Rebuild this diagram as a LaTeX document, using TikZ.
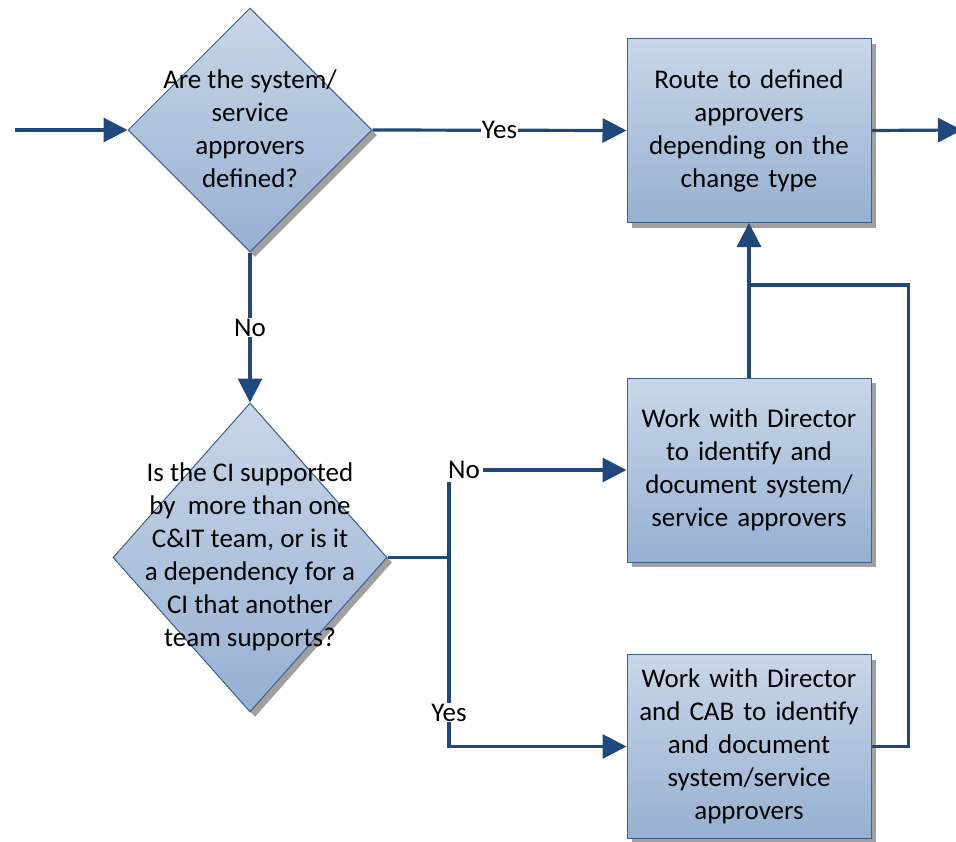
\documentclass[tikz,border=0pt]{standalone}
\usepackage{fontspec}
\setmainfont{Carlito}
\usetikzlibrary{shapes.geometric,arrows.meta,shadows}

\definecolor{flowblue}{RGB}{31,73,125}
\definecolor{edgeblue}{RGB}{62,96,140}
\definecolor{filltop}{RGB}{201,215,232}
\definecolor{fillbot}{RGB}{150,176,210}
\definecolor{shadowgray}{RGB}{160,160,160}
\newcommand\flowfont{\fontsize{27}{33}\selectfont}

\begin{document}
\begin{tikzpicture}[x=1pt,y=-1pt,
  flow/.style={draw=flowblue, line width=3.2pt},
  arr/.style={flow, -{Triangle[length=24pt,width=24pt]}},
  shapebase/.style={draw=edgeblue, line width=1pt, top color=filltop, bottom color=fillbot,
    drop shadow={shadow xshift=5pt, shadow yshift=-5pt, fill=shadowgray, opacity=1}},
  decision/.style={shapebase, diamond, inner sep=0pt},
  stepbox/.style={shapebase, rectangle, minimum width=244pt, minimum height=184pt,
    text width=226pt, align=center, font=\flowfont},
  qtext/.style={align=center, font=\flowfont, inner sep=0pt},
  lbl/.style={fill=white, inner sep=1pt, font=\flowfont}
]
\useasboundingbox (0,0) rectangle (956,841);

% decisions
\node[decision, minimum width=244pt, minimum height=244pt] (d1) at (250,130) {};
\node[qtext] (d1t) at ([yshift=1pt]d1.center) {Are the system/\\service\\approvers\\defined?};

\node[decision, minimum width=274pt, minimum height=309pt] (d2) at (250,557.5) {};
\node[qtext] (d2t) at ([yshift=1pt]d2.center) {Is the CI supported\\by\ \ more than one\\C\&IT team, or is it\\a dependency for a\\CI that another\\team supports?};

% process steps
\node[stepbox] (route) at (749,130.5) {Route to defined\\approvers\\depending on the\\change type};
\node[stepbox] (dir) at (749,470) {Work with Director\\to identify and\\document system/\\service approvers};
\node[stepbox] (cab) at (749,746.5) {Work with Director\\and CAB to identify\\and document\\system/service\\approvers};

% free ends and junctions
\coordinate (start) at (15,130);
\coordinate (finish) at (962,130);
\coordinate (split) at (449,557.5);
\coordinate (merge) at (749,285);

% connectors
\draw[arr] (start) -- (d1.west);
\draw[arr] (d1.east) -- node[lbl, pos=0.5] {Yes} (route.west);
\draw[arr] (d1.south) -- node[lbl, pos=0.5] {No} (d2.north);
\draw[arr] (route.east) -- (finish);
\draw[flow] (d2.east) -- (split);
\draw[arr] (split) |- node[lbl, pos=0.5, xshift=15pt, inner sep=3.5pt] {No} (dir.west);
\draw[arr] (split) |- node[lbl, pos=0.41] {Yes} (cab.west);
\draw[arr] (dir.north) -- (route.south);
\draw[flow] (cab.east) -- ++(37,0) |- (merge);
\end{tikzpicture}
\end{document}
